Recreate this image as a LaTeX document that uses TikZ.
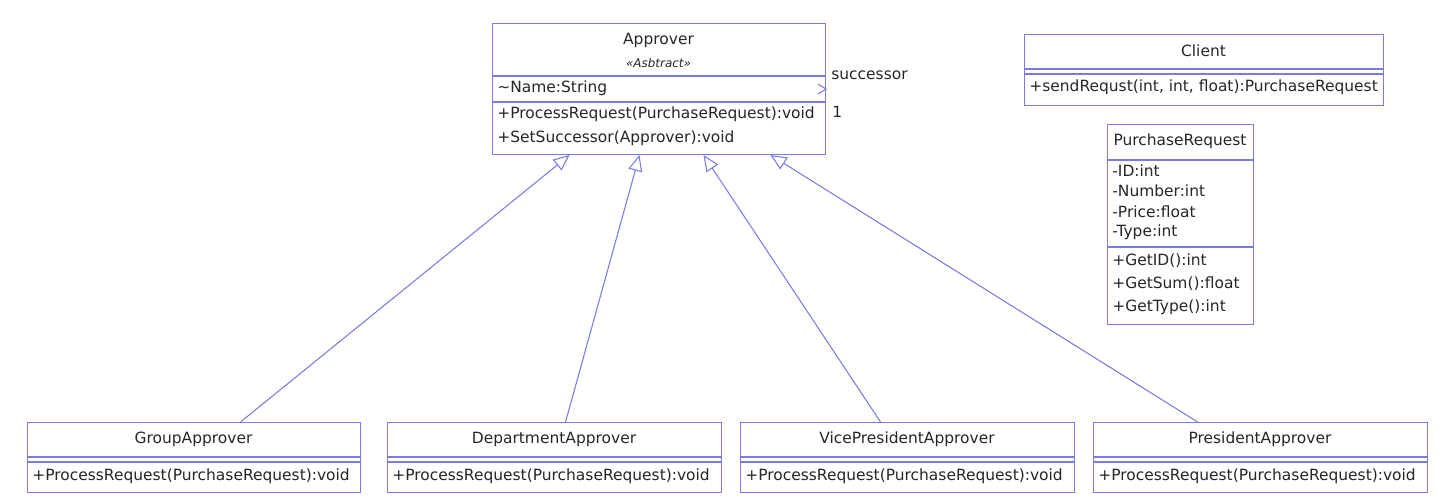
\documentclass[tikz,border=0pt]{standalone}
\usepackage{fontspec}
\setmainfont{DejaVu Sans}
\usetikzlibrary{arrows.meta}
\definecolor{umlblue}{RGB}{122,122,226}

\begin{document}
\begin{tikzpicture}[
  x=0.02cm, y=-0.02cm,
  font=\fontsize{8.8}{10.6}\selectfont,
  every node/.style={inner sep=0pt, text=black!85},
]
%-------------------------------------------------------------
% Custom colors and styles
\newcommand{\colorisB}{umlblue}

\tikzset{umlclass/.style args={width #1 height #2}{draw=\colorisB, line width=0.6pt,
  fill=white, anchor=north west, minimum width=#1*0.02cm, minimum height=#2*0.02cm}}
\tikzset{member/.style={anchor=west}}
\tikzset{sepline/.style={draw=\colorisB, line width=0.6pt}}
\tikzset{inherit/.style={draw=\colorisB, line width=0.6pt,
  -{Triangle[open, length=0.32cm, width=0.28cm, fill=white]}}}
\tikzset{navarrow/.style={draw=\colorisB, line width=0.6pt}}

\useasboundingbox (0,0) rectangle (1444,502);

%-------------------------------------------------------------
% Abstract class
\node[umlclass=width 333 height 131] (approver) at (492,23) {};
\node (approverName) at (658.5,40) {Approver};
\node[font=\fontsize{6.8}{8}\selectfont\itshape] (approverStereo) at (658.5,63) {«Asbtract»};
\draw[sepline] ([yshift=-53*0.02cm]approver.north west) -- ([yshift=-53*0.02cm]approver.north east);
\draw[sepline] ([yshift=-79*0.02cm]approver.north west) -- ([yshift=-79*0.02cm]approver.north east);
\node[member] (approverA1) at (497,88) {\textasciitilde Name:String};
\node[member] (approverM1) at (497,114) {+ProcessRequest(PurchaseRequest):void};
\node[member] (approverM2) at (497,138) {+SetSuccessor(Approver):void};

% self association
\draw[navarrow] ([shift={(-8,-5)}]approver.east) -- (approver.east) -- ([shift={(-8,5)}]approver.east);
\node[member] (succRole) at (831,75) {successor};
\node[member] (succMult) at (832,112) {1};

%============================================================
% Client
\node[umlclass=width 359 height 71] (client) at (1024,34) {};
\node (clientName) at (1203.5,51) {Client};
\draw[sepline] ([yshift=-35*0.02cm]client.north west) -- ([yshift=-35*0.02cm]client.north east);
\draw[sepline] ([yshift=-40*0.02cm]client.north west) -- ([yshift=-40*0.02cm]client.north east);
\node[member] (clientM1) at (1029,87) {+sendRequst(int, int, float):PurchaseRequest};

%============================================================
% Purchase request
\node[umlclass=width 146 height 200] (request) at (1107,124) {};
\node (requestName) at (1180,141) {PurchaseRequest};
\draw[sepline] ([yshift=-36*0.02cm]request.north west) -- ([yshift=-36*0.02cm]request.north east);
\draw[sepline] ([yshift=-123*0.02cm]request.north west) -- ([yshift=-123*0.02cm]request.north east);
\node[member] (requestA1) at (1112,171) {-ID:int};
\node[member] (requestA2) at (1112,191) {-Number:int};
\node[member] (requestA3) at (1112,212) {-Price:float};
\node[member] (requestA4) at (1112,232) {-Type:int};
\node[member] (requestM1) at (1112,261) {+GetID():int};
\node[member] (requestM2) at (1112,284) {+GetSum():float};
\node[member] (requestM3) at (1112,307) {+GetType():int};

%============================================================
% Concrete approvers
\node[umlclass=width 333 height 70] (group) at (27,422) {};
\node (groupName) at (193.5,439) {GroupApprover};
\node[member] (groupM1) at (32,476) {+ProcessRequest(PurchaseRequest):void};

\node[umlclass=width 334 height 70] (department) at (387,422) {};
\node (departmentName) at (554,439) {DepartmentApprover};
\node[member] (departmentM1) at (392,476) {+ProcessRequest(PurchaseRequest):void};

\node[umlclass=width 334 height 70] (vice) at (740,422) {};
\node (viceName) at (907,439) {VicePresidentApprover};
\node[member] (viceM1) at (745,476) {+ProcessRequest(PurchaseRequest):void};

\node[umlclass=width 334 height 70] (president) at (1093,422) {};
\node (presidentName) at (1260,439) {PresidentApprover};
\node[member] (presidentM1) at (1098,476) {+ProcessRequest(PurchaseRequest):void};

\draw[sepline] ([yshift=-35*0.02cm]group.north west) -- ([yshift=-35*0.02cm]group.north east);
\draw[sepline] ([yshift=-40*0.02cm]group.north west) -- ([yshift=-40*0.02cm]group.north east);
\draw[sepline] ([yshift=-35*0.02cm]department.north west) -- ([yshift=-35*0.02cm]department.north east);
\draw[sepline] ([yshift=-40*0.02cm]department.north west) -- ([yshift=-40*0.02cm]department.north east);
\draw[sepline] ([yshift=-35*0.02cm]vice.north west) -- ([yshift=-35*0.02cm]vice.north east);
\draw[sepline] ([yshift=-40*0.02cm]vice.north west) -- ([yshift=-40*0.02cm]vice.north east);
\draw[sepline] ([yshift=-35*0.02cm]president.north west) -- ([yshift=-35*0.02cm]president.north east);
\draw[sepline] ([yshift=-40*0.02cm]president.north west) -- ([yshift=-40*0.02cm]president.north east);

%---------------------------------------------------
% Generalisation lines
\draw[inherit] ([xshift=46.5*0.02cm]group.north) -- ([xshift=-89.5*0.02cm]approver.south);
\draw[inherit] ([xshift=11*0.02cm]department.north) -- ([xshift=-19.5*0.02cm]approver.south);
\draw[inherit] ([xshift=-27*0.02cm]vice.north) -- ([xshift=44.5*0.02cm]approver.south);
\draw[inherit] ([xshift=-63*0.02cm]president.north) -- ([xshift=111.5*0.02cm]approver.south);

\end{tikzpicture}
\end{document}
